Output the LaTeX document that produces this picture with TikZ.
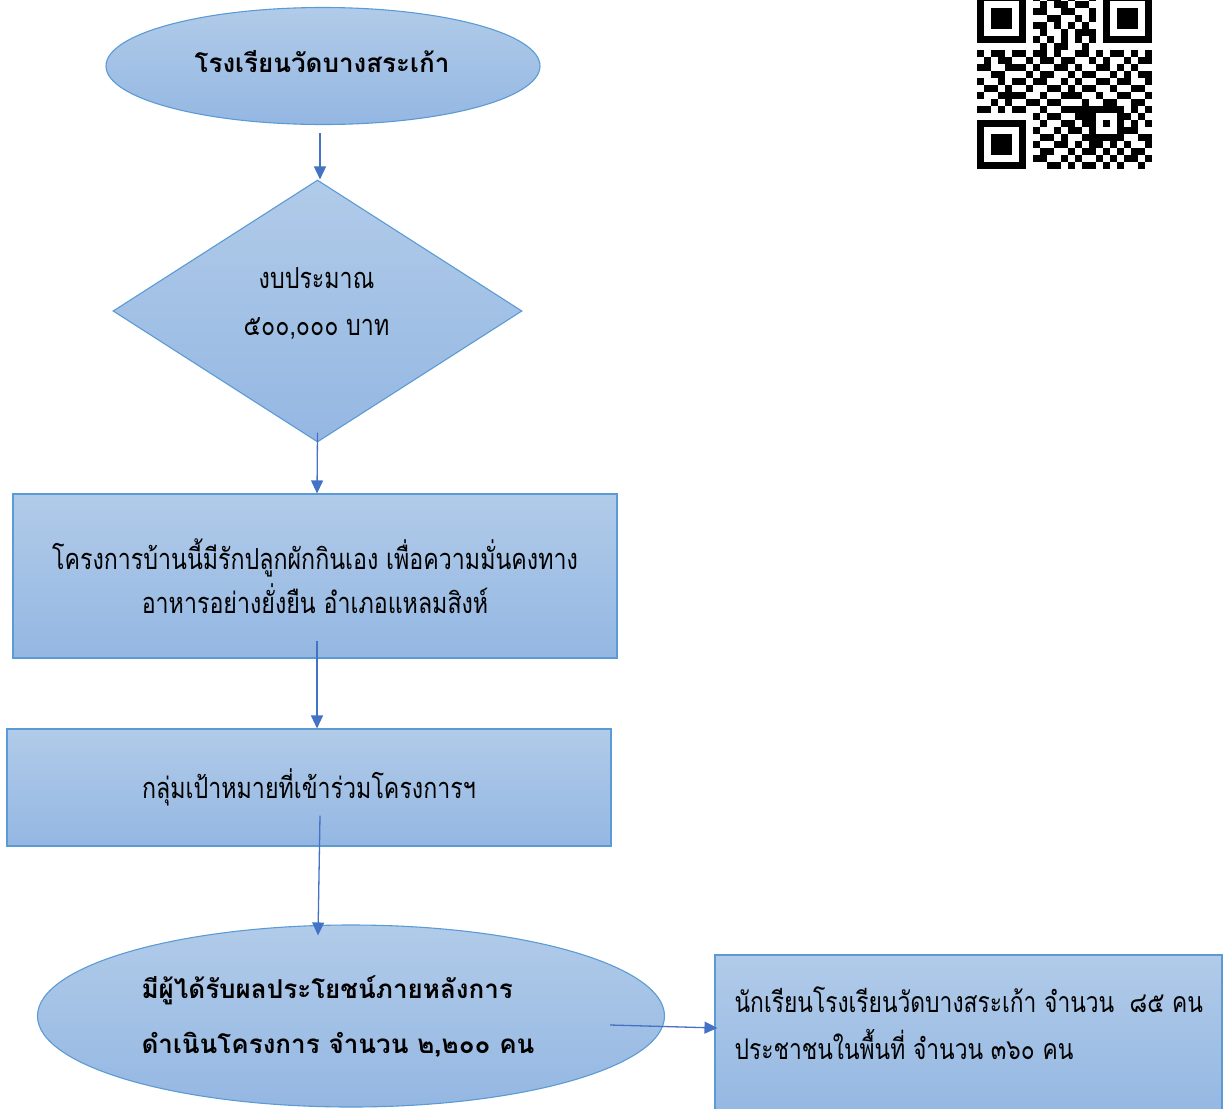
\documentclass[tikz,border=0pt]{standalone}
\usepackage{fontspec}
\setmainfont[Script=Thai]{Loma}
\newfontfamily\narrowfont[Script=Thai,FakeStretch=0.8]{Loma}
\usetikzlibrary{shapes.geometric,arrows.meta,calc}
\definecolor{topc}{HTML}{B1CBE9}
\definecolor{botc}{HTML}{94B7E2}
\definecolor{edgec}{HTML}{5B9BD5}
\definecolor{arrc}{HTML}{4472C4}
\begin{document}
\begin{tikzpicture}[x=1pt,y=-1pt,
  shp/.style={draw=edgec, line width=1.1pt, top color=topc, bottom color=botc, inner sep=0pt, text=black},
  conn/.style={draw=arrc, line width=1.3pt, -{Triangle[length=13pt,width=12pt]}},
  txt/.style={font=\narrowfont\fontsize{29}{44}\selectfont, align=center},
  btxt/.style={font=\bfseries\fontsize{26}{55}\selectfont, inner sep=0pt},
  ]
\useasboundingbox (0,0) rectangle (1227,1109);

% QR code
\begin{scope}[shift={(977,-6)}]
  \foreach \qx/\qy in {0/0,126/0,0/126}{
    \fill[black] (\qx,\qy) rectangle ++(49,49);
    \fill[white] (\qx+7,\qy+7) rectangle ++(35,35);
    \fill[black] (\qx+14,\qy+14) rectangle ++(21,21);
  }
  \fill[black] (112,112) rectangle ++(35,35);
  \fill[white] (119,119) rectangle ++(21,21);
  \fill[black] (126,126) rectangle ++(7,7);
  \foreach \r/\cols in {
    0/{8,10,11,13,16}, 1/{9,11,12,14,15}, 2/{8,9,12,13,16}, 3/{10,11,14,16},
    4/{8,9,11,13,15}, 5/{9,12,14,15,16}, 6/{8,10,12,14,16}, 7/{9,11,12,15},
    8/{0,2,3,5,6,8,9,11,14,15,17,19,20,22,24},
    9/{1,3,4,7,9,10,12,13,16,18,21,23,24},
    10/{0,1,4,5,6,8,11,12,14,17,18,20,22},
    11/{2,3,7,9,10,13,15,16,19,21,23,24},
    12/{0,3,5,6,8,9,12,14,17,18,20,21,24},
    13/{1,2,4,7,10,11,13,15,16,19,22,23},
    14/{0,3,4,5,6,9,12,13,14,17,20,21,24},
    15/{2,4,7,8,10,11,15,18,19,22,23},
    16/{0,1,3,5,6,9,12,13,14,15,22,24},
    17/{8,10,11,14,15,21,23}, 18/{9,12,13,15,22,24}, 19/{8,11,13,14,21,22},
    20/{9,10,12,15,23,24}, 21/{8,11,12,14,16,17,19,21,24},
    22/{9,10,13,15,16,18,20,22,23}, 23/{8,9,12,14,17,19,21,22,24},
    24/{10,11,13,15,16,18,20,23}}{
    \foreach \c in \cols {
      \fill[black] (7*\c,7*\r) rectangle ++(7,7);
    }
  }
\end{scope}

% shapes
\node[shp, ellipse, minimum width=434pt, minimum height=117pt] (e1) at (323,66) {};
\node[btxt] (t1) at ($(e1.center)+(-1,-4)$) {โรงเรียนวัดบางสระเก้า};
\node[shp, diamond, aspect=1.56, minimum width=409pt, minimum height=262pt] (d) at (317.5,311) {};
\node[font=\narrowfont\fontsize{29}{47}\selectfont, align=center, inner sep=0pt] (td) at ($(d.center)+(-1,-7)$) {งบประมาณ\\๕๐๐,๐๐๐ บาท};
\node[shp, rectangle, minimum width=604pt, minimum height=164pt, txt] (b1) at (315,576) {โครงการบ้านนี้มีรักปลูกผักกินเอง เพื่อความมั่นคงทาง\\อาหารอย่างยั่งยืน อำเภอแหลมสิงห์};
\node[shp, rectangle, minimum width=604pt, minimum height=117pt, txt] (b2) at (309,787.5) {กลุ่มเป้าหมายที่เข้าร่วมโครงการฯ};
\node[shp, ellipse, minimum width=627pt, minimum height=182pt] (e5) at (351,1016) {};
\node[btxt, align=left] (t5) at ($(e5.center)+(-13,0)$) {มีผู้ได้รับผลประโยชน์ภายหลังการ\\ดำเนินโครงการ จำนวน ๒,๒๐๐ คน};
\node[shp, rectangle, minimum width=507pt, minimum height=160pt] (b6) at (968.5,1035) {};
\node[anchor=west, align=left, font=\narrowfont\fontsize{28.5}{47}\selectfont, inner sep=0pt] (t6) at ($(b6.west)+(20,-12)$) {นักเรียนโรงเรียนวัดบางสระเก้า จำนวน~ ๘๕ คน\\ประชาชนในพื้นที่ จำนวน ๓๖๐ คน};

% connectors
\draw[conn] ($(e1.south)+(-3,8)$) -- ($(d.north)+(2.5,0)$);
\draw[conn] ($(d.south)+(0,-10)$) -- ($(b1.north)+(2,0)$);
\draw[conn] ($(b1.south)+(2,-18)$) -- ($(b2.north)+(8,0)$);
\draw[conn] ($(b2.south)+(11,-31)$) -- ($(e5.north)+(-33,11)$);
\draw[conn] ($(e5.east)+(-55,9)$) -- ($(b6.west)+(3,-7)$);
\end{tikzpicture}
\end{document}
